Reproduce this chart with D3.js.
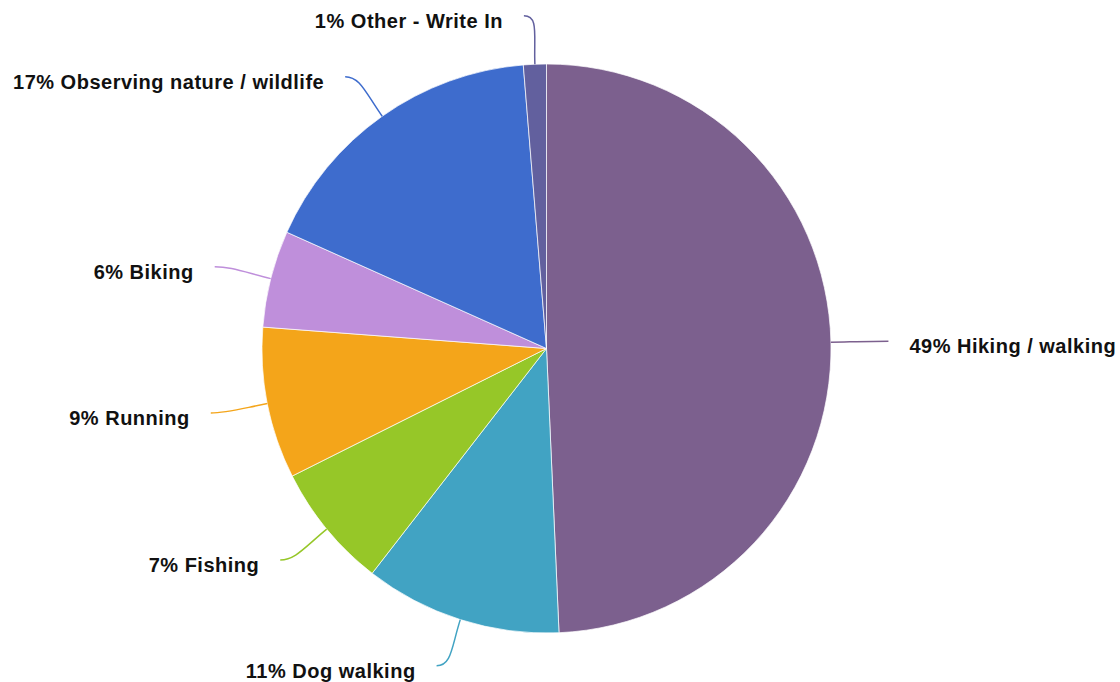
<!DOCTYPE html>
<html>
<head>
<meta charset="utf-8">
<script src="https://cdn.jsdelivr.net/npm/d3@7"></script>
<style>
  html, body { margin: 0; padding: 0; background: #fff; }
  svg { display: block; }
  .lbl { font-family: "Liberation Sans", Arial, Helvetica, sans-serif; font-weight: bold; font-size: 20px; letter-spacing: 0.5px; fill: #111; }
</style>
</head>
<body>
<svg id="chart" width="1120" height="682"></svg>
<script>
const categories = ["Hiking / walking", "Dog walking", "Fishing", "Running", "Biking", "Observing nature / wildlife", "Other - Write In"];
const values = [49.3, 11.2, 7.1, 8.6, 5.5, 17.0, 1.3];
const colors = ["#7c608e", "#41a3c3", "#96c728", "#f4a51a", "#bf8fdb", "#3e6ccd", "#62609e"];

const W = 1120, H = 682;
const cx = 546.5, cy = 348.5, R = 284.5;
const labelR = 333;

const svg = d3.select("#chart");
const g = svg.append("g").attr("transform", `translate(${cx},${cy})`);

const data = categories.map((c, i) => ({ name: c, value: values[i], color: colors[i] }));
const total = d3.sum(values);
const pie = d3.pie().value(d => d.value).sort(null);
const arcs = pie(data);
const arc = d3.arc().innerRadius(0).outerRadius(R);

g.selectAll("path.slice").data(arcs).enter().append("path")
  .attr("class", "slice")
  .attr("d", arc)
  .attr("fill", d => d.data.color)
  .attr("stroke", "#fff")
  .attr("stroke-width", 0.7);

function pt(a, r) { return [r * Math.sin(a), -r * Math.cos(a)]; }

arcs.forEach(d => {
  const mid = (d.startAngle + d.endAngle) / 2;
  const right = Math.sin(mid) > 0;
  const sgn = right ? 1 : -1;
  const p0 = pt(mid, R);
  const pm = pt(mid, labelR);
  const p3 = [pm[0] + sgn * 9, pm[1]];
  const p1 = pt(mid, R + (labelR - R) * 0.6);
  const p2 = [pm[0] - sgn * 6, pm[1]];
  const path = d3.path();
  path.moveTo(p0[0], p0[1]);
  path.bezierCurveTo(p1[0], p1[1], p2[0], p2[1], p3[0], p3[1]);
  g.append("path")
    .attr("d", path.toString())
    .attr("fill", "none")
    .attr("stroke", d.data.color)
    .attr("stroke-width", 1.5);
  const pct = Math.round(d.data.value / total * 100);
  g.append("text")
    .attr("class", "lbl")
    .attr("x", p3[0] + sgn * 21)
    .attr("y", p3[1] + 12)
    .attr("text-anchor", right ? "start" : "end")
    .text(`${pct}% ${d.data.name}`);
});
</script>
</body>
</html>
